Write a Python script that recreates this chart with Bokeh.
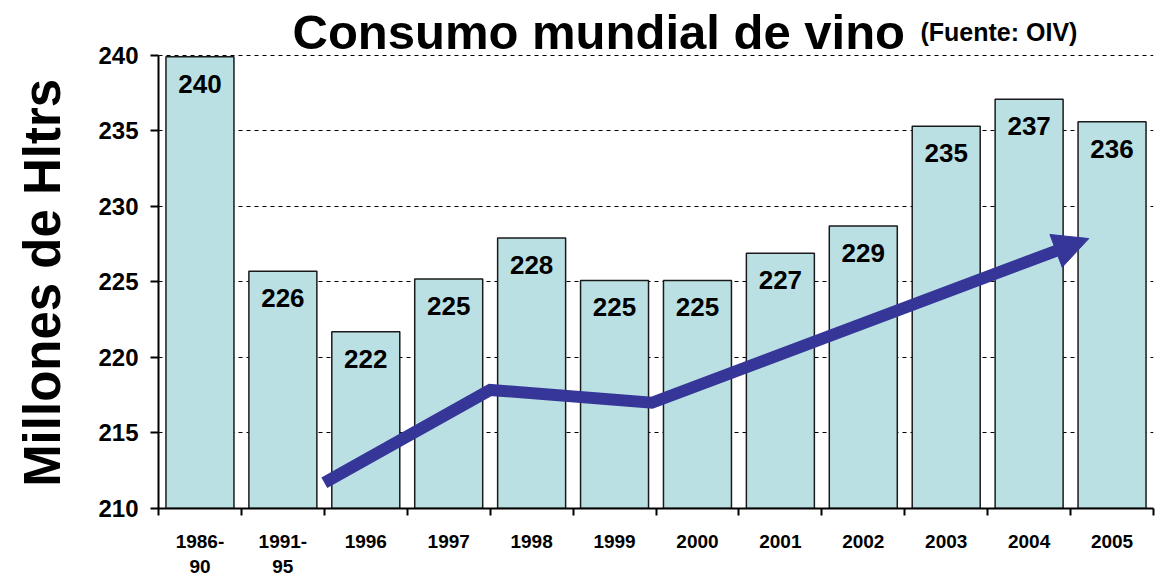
from bokeh.plotting import figure
from bokeh.models import Range1d, FixedTicker, Label, Arrow, NormalHead
from bokeh.core.properties import value
from bokeh.embed import file_html
from bokeh.resources import INLINE

# ---- data ----
categories = ["1986-\n90", "1991-\n95", "1996", "1997", "1998", "1999",
              "2000", "2001", "2002", "2003", "2004", "2005"]
consumo = [239.9, 225.7, 221.7, 225.2, 227.9, 225.1, 225.1, 226.9, 228.7, 235.3, 237.1, 235.6]
etiquetas = ["240", "226", "222", "225", "228", "225", "225", "227", "229", "235", "237", "236"]
# trend arrow, in category-index units (0 = left edge of first category)
tend_x = [2.0, 4.0, 5.95, 11.22]
tend_y = [211.7, 217.85, 217.0, 227.87]
y_ticks = [210, 215, 220, 225, 230, 235, 240]

FONT = "Liberation Sans"
ARROW_C = "#363699"
BAR_C = "#BAE0E3"

n = len(categories)
xc = [i + 0.5 for i in range(n)]

# frame extends above 240 to host the title; axis line bounded to 210..240
p = figure(width=1165, height=579, x_range=Range1d(0, n), y_range=Range1d(210, 243.63),
           output_backend="svg", toolbar_location=None,
           min_border_left=158, min_border_right=12, min_border_top=0, min_border_bottom=69)
p.outline_line_color = None
p.background_fill_color = "white"

# grid
p.xgrid.visible = False
p.ygrid.ticker = FixedTicker(ticks=y_ticks)
p.ygrid.grid_line_color = "black"
p.ygrid.grid_line_dash = "4 4"
p.ygrid.grid_line_width = 1

# bars
p.vbar(x=xc, top=consumo, bottom=210, width=0.82, fill_color=BAR_C,
       line_color="#1a1a1a", line_width=1.5)

# bar labels
p.text(x=xc, y=consumo, text=etiquetas, text_align="center", text_baseline="middle",
       y_offset=27, text_font=value(FONT), text_font_style="bold", text_font_size="26px",
       text_color="black")

# trend arrow
f = 0.05
end_x = tend_x[-1] - f * (tend_x[-1] - tend_x[-2])
end_y = tend_y[-1] - f * (tend_y[-1] - tend_y[-2])
p.line(x=tend_x[:-1] + [end_x], y=tend_y[:-1] + [end_y], line_color=ARROW_C,
       line_width=12, line_join="miter", line_cap="butt")
p.add_layout(Arrow(end=NormalHead(size=35, fill_color=ARROW_C, line_color=ARROW_C, line_width=1),
                   x_start=tend_x[-2], y_start=tend_y[-2], x_end=tend_x[-1], y_end=tend_y[-1],
                   line_alpha=0, line_width=1))

# x axis
xa = p.xaxis[0]
xa.ticker = FixedTicker(ticks=xc, minor_ticks=list(range(n + 1)))
xa.major_label_overrides = {x: c for x, c in zip(xc, categories)}
xa.major_tick_line_color = None
xa.major_tick_out = 0
xa.major_tick_in = 0
xa.minor_tick_out = 7
xa.minor_tick_in = 0
xa.minor_tick_line_color = "black"
xa.minor_tick_line_width = 2
xa.axis_line_color = "black"
xa.axis_line_width = 2
xa.major_label_standoff = 15
xa.major_label_text_font = FONT
xa.major_label_text_font_style = "bold"
xa.major_label_text_font_size = "19px"
xa.major_label_text_color = "black"

# y axis
ya = p.yaxis[0]
ya.bounds = (y_ticks[0], y_ticks[-1])
ya.ticker = FixedTicker(ticks=y_ticks, minor_ticks=[])
ya.major_tick_in = 0
ya.major_tick_out = 8
ya.major_tick_line_width = 2
ya.major_tick_line_color = "black"
ya.axis_line_width = 2
ya.axis_line_color = "black"
ya.major_label_standoff = 12
ya.major_label_text_font = FONT
ya.major_label_text_font_style = "bold"
ya.major_label_text_font_size = "24px"
ya.major_label_text_color = "black"
# trailing no-break spaces shift the centred title down onto the 210..240 span
ya.axis_label = "Millones de Hltrs" + "\u00a0" * 4
ya.axis_label_text_font = FONT
ya.axis_label_text_font_style = "bold"
ya.axis_label_text_font_size = "51px"
ya.axis_label_text_color = "black"
ya.axis_label_standoff = 24

# title (screen units from frame bottom-left)
p.add_layout(Label(x=134, y=477, x_units="screen", y_units="screen",
                   text="Consumo mundial de vino", text_font=FONT, text_font_style="bold",
                   text_font_size="49px", text_color="black", text_baseline="alphabetic"))
p.add_layout(Label(x=762, y=477, x_units="screen", y_units="screen",
                   text="(Fuente: OIV)", text_font=FONT, text_font_style="bold",
                   text_font_size="25px", text_color="black", text_baseline="alphabetic"))

open("out.html", "w").write(file_html(p, INLINE))
